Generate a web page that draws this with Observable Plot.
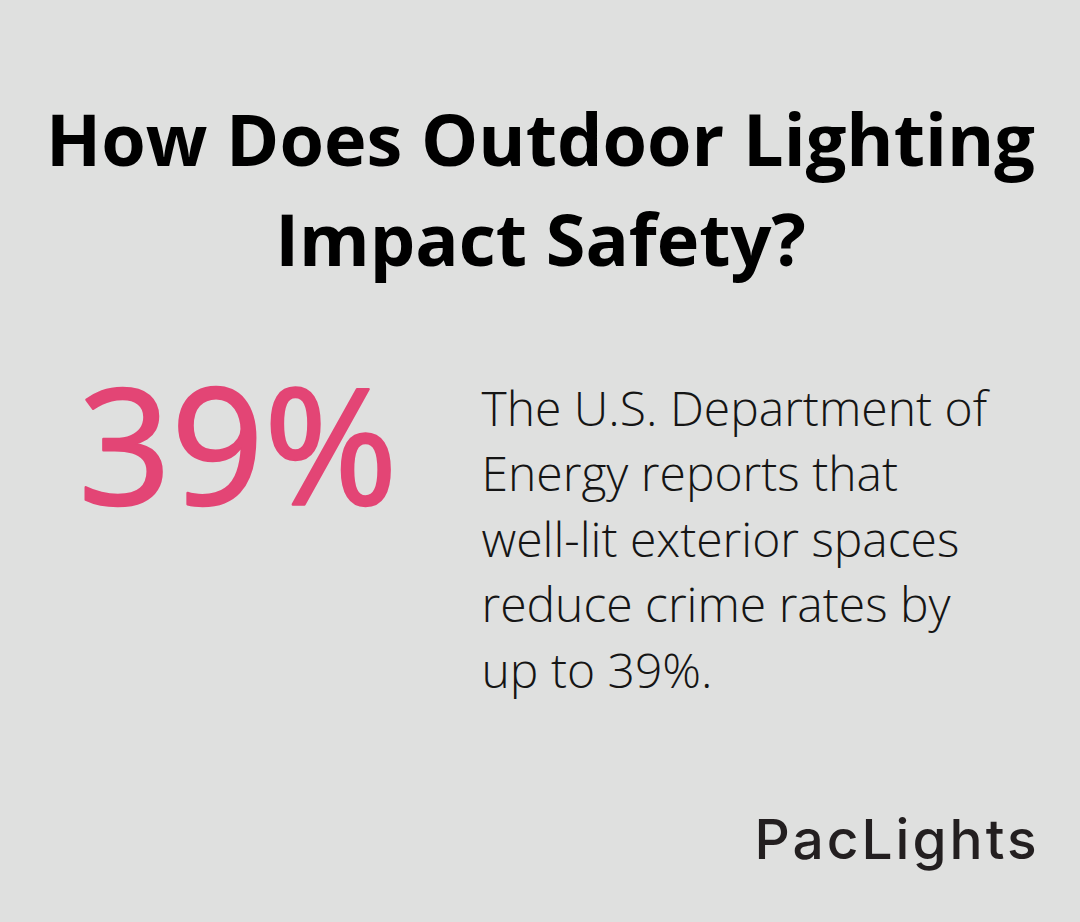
<!DOCTYPE html>
<html>
<head>
<meta charset="utf-8">
<script src="https://cdn.jsdelivr.net/npm/d3@7"></script>
<script src="https://cdn.jsdelivr.net/npm/@observablehq/plot@0.6"></script>
<style>
  html, body { margin: 0; padding: 0; background: #dfe0df; }
  #chart svg { display: block; }
  .brand text { letter-spacing: 3px; }
</style>
</head>
<body>
<div id="chart"></div>
<script>
// Content
const titleLines = ["How Does Outdoor Lighting", "Impact Safety?"];
const statValue = ["39%"];
const bodyLines = [
  "The U.S. Department of",
  "Energy reports that",
  "well-lit exterior spaces",
  "reduce crime rates by",
  "up to 39%."
];
const brand = ["PacLights"];

// Layout (canvas units; y grows downward)
const W = 1080, H = 922;
const titleRows = titleLines.map((t, i) => ({text: t, row: i}));
const bodyRows = bodyLines.map((t, i) => ({text: t, row: i}));

const plot = Plot.plot({
  width: W,
  height: H,
  margin: 0,
  style: {background: "#dfe0df", fontFamily: "'Open Sans', sans-serif"},
  x: {domain: [0, W], axis: null},
  y: {domain: [0, H], axis: null, reverse: true},
  marks: [
    Plot.text(titleRows, {
      x: () => W / 2,
      y: d => 165 + d.row * 100,
      text: "text",
      textAnchor: "middle",
      lineAnchor: "bottom",
      fontSize: 72,
      fontWeight: 700,
      fill: "#000"
    }),
    Plot.text(statValue, {
      x: () => 78,
      y: () => 503,
      text: d => d,
      textAnchor: "start",
      lineAnchor: "bottom",
      fontSize: 162,
      fontWeight: 400,
      fill: "#e34575",
      stroke: "#e34575",
      strokeWidth: 2.5
    }),
    Plot.text(bodyRows, {
      x: () => 481,
      y: d => 425 + d.row * 65.5,
      text: "text",
      textAnchor: "start",
      lineAnchor: "bottom",
      fontSize: 48,
      fontWeight: 300,
      fill: "#151515"
    }),
    Plot.text(brand, {
      x: () => 754,
      y: () => 858,
      text: d => d,
      textAnchor: "start",
      lineAnchor: "bottom",
      fontSize: 55,
      fontWeight: 500,
      fontFamily: "Inter, sans-serif",
      fill: "#231f20",
      className: "brand"
    })
  ]
});
document.getElementById("chart").appendChild(plot);
</script>
</body>
</html>
